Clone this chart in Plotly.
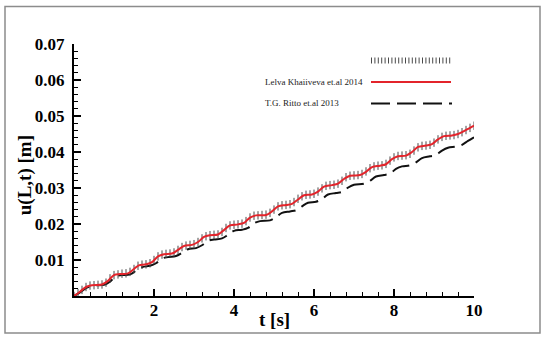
import plotly.graph_objects as go

# ---- data ----
t_ticks = [round(0.1 * i, 1) for i in range(101)]
u_ticks = [0.0000, 0.0008, 0.0017, 0.0025, 0.0029, 0.0030, 0.0031, 0.0032, 0.0037, 0.0049,
           0.0058, 0.0060, 0.0062, 0.0063, 0.0067, 0.0075, 0.0084, 0.0087, 0.0088, 0.0091,
           0.0100, 0.0110, 0.0115, 0.0117, 0.0118, 0.0121, 0.0128, 0.0136, 0.0140, 0.0142,
           0.0144, 0.0150, 0.0160, 0.0166, 0.0169, 0.0170, 0.0171, 0.0178, 0.0189, 0.0196,
           0.0198, 0.0199, 0.0201, 0.0208, 0.0218, 0.0223, 0.0224, 0.0225, 0.0226, 0.0231,
           0.0240, 0.0249, 0.0252, 0.0253, 0.0255, 0.0261, 0.0270, 0.0277, 0.0281, 0.0282,
           0.0284, 0.0290, 0.0299, 0.0306, 0.0308, 0.0309, 0.0312, 0.0320, 0.0330, 0.0334,
           0.0335, 0.0336, 0.0339, 0.0346, 0.0355, 0.0360, 0.0362, 0.0363, 0.0367, 0.0376,
           0.0385, 0.0389, 0.0390, 0.0391, 0.0395, 0.0404, 0.0413, 0.0417, 0.0418, 0.0420,
           0.0426, 0.0435, 0.0442, 0.0445, 0.0446, 0.0447, 0.0450, 0.0455, 0.0461, 0.0467,
           0.0473]

t_leiva = [0.00, 0.15, 0.30, 0.45, 0.70, 0.85, 1.00, 1.15, 1.35, 1.50, 1.62, 1.80, 1.95, 2.10,
           2.25, 2.45, 2.60, 2.75, 2.95, 3.10, 3.25, 3.40, 3.60, 3.75, 3.90, 4.10, 4.25, 4.40,
           4.55, 4.80, 4.95, 5.10, 5.30, 5.45, 5.60, 5.75, 5.95, 6.10, 6.25, 6.45, 6.60, 6.75,
           6.90, 7.15, 7.30, 7.45, 7.65, 7.80, 7.95, 8.10, 8.30, 8.45, 8.60, 8.80, 8.95, 9.10,
           9.25, 9.45, 9.60, 9.75, 9.90, 10.00]
u_leiva = [0.0000, 0.0012, 0.0025, 0.0030, 0.0032, 0.0042, 0.0058, 0.0061, 0.0063, 0.0075,
           0.0085, 0.0088, 0.0094, 0.0110, 0.0116, 0.0118, 0.0128, 0.0139, 0.0142, 0.0150,
           0.0164, 0.0169, 0.0171, 0.0183, 0.0196, 0.0199, 0.0203, 0.0218, 0.0224, 0.0225,
           0.0235, 0.0249, 0.0253, 0.0256, 0.0268, 0.0280, 0.0282, 0.0290, 0.0304, 0.0308,
           0.0312, 0.0325, 0.0334, 0.0336, 0.0345, 0.0358, 0.0362, 0.0366, 0.0380, 0.0388,
           0.0390, 0.0400, 0.0414, 0.0418, 0.0422, 0.0435, 0.0444, 0.0446, 0.0450, 0.0458,
           0.0467, 0.0473]

t_ritto = [0.00, 0.15, 0.30, 0.50, 0.75, 0.90, 1.05, 1.20, 1.40, 1.55, 1.70, 1.90, 2.05, 2.20,
           2.35, 2.55, 2.70, 2.85, 3.05, 3.20, 3.35, 3.50, 3.70, 3.85, 4.00, 4.20, 4.35, 4.50,
           4.65, 4.90, 5.05, 5.20, 5.40, 5.55, 5.70, 5.85, 6.05, 6.20, 6.35, 6.55, 6.70, 6.85,
           7.00, 7.25, 7.40, 7.55, 7.75, 7.90, 8.05, 8.20, 8.40, 8.55, 8.70, 8.90, 9.05, 9.20,
           9.35, 9.55, 9.70, 9.85, 10.00]
u_ritto = [0.0000, 0.0010, 0.0022, 0.0029, 0.0031, 0.0040, 0.0055, 0.0058, 0.0060, 0.0070,
           0.0080, 0.0084, 0.0091, 0.0104, 0.0108, 0.0111, 0.0120, 0.0130, 0.0133, 0.0141,
           0.0153, 0.0157, 0.0160, 0.0170, 0.0181, 0.0184, 0.0189, 0.0202, 0.0208, 0.0210,
           0.0219, 0.0231, 0.0235, 0.0238, 0.0249, 0.0259, 0.0262, 0.0269, 0.0282, 0.0286,
           0.0289, 0.0301, 0.0309, 0.0312, 0.0320, 0.0332, 0.0336, 0.0340, 0.0353, 0.0360,
           0.0363, 0.0371, 0.0383, 0.0388, 0.0392, 0.0404, 0.0412, 0.0415, 0.0420, 0.0431,
           0.0441]

x_tickvals = [0, 2, 4, 6, 8, 10]
x_ticktext = ["", "2", "4", "6", "8", "10"]
y_tickvals = [0, 0.01, 0.02, 0.03, 0.04, 0.05, 0.06, 0.07]
y_ticktext = ["", "0.01", "0.02", "0.03", "0.04", "0.05", "0.06", "0.07"]

legend_labels = ["", "Lelva Khaiiveva et.al 2014", "T.G. Ritto et.al 2013"]

SERIF = "Liberation Serif, Times New Roman, serif"
RED = "#e3242b"

fig = go.Figure()
fig.add_trace(go.Scatter(x=t_ritto, y=u_ritto, mode="lines", line_shape="spline",
                         line=dict(color="#111111", width=2, dash="18px,7px"),
                         showlegend=False))
fig.add_trace(go.Scatter(x=t_ticks, y=u_ticks, mode="markers",
                         marker=dict(symbol="line-ns", size=6,
                                     line=dict(color="#4a4a4a", width=1)),
                         showlegend=False))
fig.add_trace(go.Scatter(x=t_leiva, y=u_leiva, mode="lines", line_shape="spline",
                         line=dict(color=RED, width=2), showlegend=False))

tickfont = dict(family=SERIF, size=17, color="black", weight="bold")
axis_common = dict(showgrid=False, zeroline=False, showline=True, linecolor="black",
                   linewidth=2, ticks="inside", ticklen=7, tickwidth=1.5, tickcolor="black")

fig.update_xaxes(range=[0, 10], tickmode="array", tickvals=x_tickvals, ticktext=x_ticktext,
                 tickfont=tickfont,
                 minor=dict(ticks="inside", ticklen=4, tickwidth=1, tickcolor="black",
                            tick0=0, dtick=0.4),
                 ticklabelstandoff=-2,
                 **axis_common)
fig.update_yaxes(range=[0, 0.07], tickmode="array", tickvals=y_tickvals, ticktext=y_ticktext,
                 tickfont=tickfont,
                 minor=dict(ticks="inside", ticklen=4, tickwidth=1, tickcolor="black",
                            tick0=0, dtick=0.002),
                 ticklabelstandoff=4,
                 **axis_common)

# plot area in page pixels: x 74..474, y 43.5..296
L, R, T, B = 74, 474, 43.5, 296
W, H = 550, 338
def px(x):
    return (x - L) / (R - L)
def py(y):
    return (B - y) / (B - T)

shapes = []
# outer frame
shapes.append(dict(type="rect", xref="paper", yref="paper",
                   x0=px(5), x1=px(540), y0=py(333), y1=py(6),
                   line=dict(color="#8c8c8c", width=1.5), layer="below"))
# legend samples
leg_y = [60, 81.5, 103]
shapes.append(dict(type="line", xref="paper", yref="paper", x0=px(371), x1=px(452),
                   y0=py(leg_y[0]), y1=py(leg_y[0]),
                   line=dict(color="#4a4a4a", width=6, dash="1px,2.4px")))
shapes.append(dict(type="line", xref="paper", yref="paper", x0=px(371), x1=px(451),
                   y0=py(leg_y[1]), y1=py(leg_y[1]), line=dict(color=RED, width=2)))
shapes.append(dict(type="line", xref="paper", yref="paper", x0=px(371), x1=px(452),
                   y0=py(leg_y[2]), y1=py(leg_y[2]),
                   line=dict(color="#111111", width=2, dash="19px,7px")))

annotations = []
for lab, yy in zip(legend_labels, leg_y):
    if lab:
        annotations.append(dict(text=lab, xref="paper", yref="paper", x=px(263), y=py(yy),
                                xanchor="left", yanchor="middle", showarrow=False,
                                font=dict(family=SERIF, size=9, color="#222222")))
annotations.append(dict(text="t [s]", xref="paper", yref="paper", x=px(274), y=py(320),
                        xanchor="center", yanchor="middle", showarrow=False,
                        font=dict(family=SERIF, size=19, color="black", weight="bold")))
annotations.append(dict(text="u(L,t) [m]", xref="paper", yref="paper", x=px(25), y=py(175),
                        xanchor="center", yanchor="middle", showarrow=False, textangle=-90,
                        font=dict(family=SERIF, size=19, color="black", weight="bold")))

fig.update_layout(width=W, height=H, margin=dict(l=L, r=W - R, t=T, b=H - B),
                  font=dict(family=SERIF),
                  paper_bgcolor="white", plot_bgcolor="white",
                  shapes=shapes, annotations=annotations, showlegend=False)

fig.write_html("out.html", config={"displayModeBar": False},
               post_script="document.body.style.margin='0';document.body.style.overflow='hidden';")
